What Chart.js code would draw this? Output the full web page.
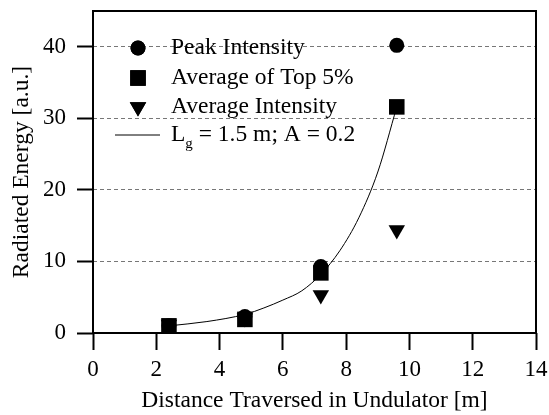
<!DOCTYPE html>
<html>
<head>
<meta charset="utf-8">
<script src="https://cdn.jsdelivr.net/npm/chart.js@4/dist/chart.umd.min.js"></script>
<style>
  html, body { margin: 0; padding: 0; background: #fff; }
  #wrap { width: 549px; height: 415px; position: relative; }
</style>
</head>
<body>
<div id="wrap"><canvas id="chart"></canvas></div>
<script>
// distances along the undulator [m]
const distances = [2.4, 4.8, 7.2, 9.6];
const peakIntensity = [1.0, 2.3, 9.3, 40.2];
const avgTop5 = [1.0, 1.9, 8.4, 31.6];
const avgIntensity = [1.2, 2.1, 5.3, 14.4];

// gain curve, points
const fitX = [2.4, 3.6, 4.8, 5.4, 6.0, 6.6, 7.2, 7.8, 8.4, 9.0, 9.6];
const fitY = [1.0, 1.6, 2.6, 3.5, 4.6, 5.9, 8.2, 11.5, 16.1, 22.5, 31.6];

const xTicks = [0, 2, 4, 6, 8, 10, 12, 14];
const yTicks = [0, 10, 20, 30, 40];

const FONT = '"Liberation Serif", "Times New Roman", serif';
const TEXT_SIZE = 23.5;

function pts(xs, ys) {
    return xs.map((x, i) => ({ x: x, y: ys[i] }));
}

// full box around the plot
const frame = {
    id: 'frame',
    afterDraw(chart) {
        const { ctx, chartArea: a } = chart;
        ctx.save();
        ctx.strokeStyle = '#000';
        ctx.lineWidth = 2;
        ctx.strokeRect(a.left, a.top, a.right - a.left, a.bottom - a.top);
        ctx.restore();
    }
};

// legend drawn inside the plot, top left
const innerLegend = {
    id: 'innerLegend',
    afterDraw(chart) {
        const ctx = chart.ctx;
        const a = chart.chartArea;
        const markX = a.left + 45;
        const textX = a.left + 78;
        const rowY = [a.top + 37, a.top + 67, a.top + 96, a.top + 124];
        const big = TEXT_SIZE + 'px ' + FONT;
        ctx.save();
        ctx.fillStyle = '#000';
        ctx.strokeStyle = '#000';
        ctx.font = big;
        ctx.textBaseline = 'middle';
        ctx.textAlign = 'left';
        chart.data.datasets.forEach((ds, i) => {
            const y = rowY[i];
            if (ds.showLine) {
                ctx.lineWidth = 1;
                ctx.beginPath();
                ctx.moveTo(markX - 23, y);
                ctx.lineTo(markX + 22, y);
                ctx.stroke();
                // L with subscript g
                ctx.fillText('L', textX, y);
                const w = ctx.measureText('L').width;
                ctx.font = '15px ' + FONT;
                ctx.fillText('g', textX + w, y + 9);
                const wg = ctx.measureText('g').width;
                ctx.font = big;
                ctx.fillText(' = 1.5 m; A = 0.2', textX + w + wg, y);
            } else {
                Chart.helpers.drawPoint(ctx, {
                    pointStyle: ds.pointStyle,
                    radius: ds.pointRadius,
                    rotation: ds.rotation || 0,
                    borderWidth: 0
                }, markX, y);
                ctx.fill();
                ctx.fillText(ds.label, textX, y);
            }
        });
        ctx.restore();
    }
};

const markerBase = {
    showLine: false,
    backgroundColor: '#000',
    borderColor: '#000',
    borderWidth: 0
};

new Chart(document.getElementById('chart'), {
    type: 'scatter',
    data: {
        datasets: [
            Object.assign({}, markerBase, {
                label: 'Peak Intensity',
                data: pts(distances, peakIntensity),
                pointStyle: 'circle',
                pointRadius: 7.5,
                order: 3
            }),
            Object.assign({}, markerBase, {
                label: 'Average of Top 5%',
                data: pts(distances, avgTop5),
                pointStyle: 'rect',
                pointRadius: 11,
                order: 2
            }),
            Object.assign({}, markerBase, {
                label: 'Average Intensity',
                data: pts(distances, avgIntensity),
                pointStyle: 'triangle',
                rotation: 180,
                pointRadius: 9.5,
                order: 4
            }),
            {
                label: 'Lg = 1.5 m; A = 0.2',
                data: pts(fitX, fitY),
                showLine: true,
                borderColor: '#000',
                borderWidth: 1,
                pointRadius: 0,
                cubicInterpolationMode: 'monotone',
                order: 1
            }
        ]
    },
    options: {
        responsive: true,
        maintainAspectRatio: false,
        animation: false,
        layout: { padding: { top: 5, right: 13, left: 0, bottom: 0 } },
        plugins: {
            legend: { display: false },
            tooltip: { enabled: false }
        },
        scales: {
            x: {
                type: 'linear',
                min: 0,
                max: 14,
                afterBuildTicks: (s) => { s.ticks = xTicks.map(v => ({ value: v })); },
                afterFit: (s) => { s.height = 82; s.paddingLeft = 0; s.paddingRight = 0; },
                border: { display: false },
                grid: {
                    drawOnChartArea: false,
                    drawTicks: true,
                    tickLength: 17,
                    tickWidth: 2,
                    tickColor: '#000'
                },
                ticks: {
                    color: '#000',
                    font: { family: FONT, size: 23 },
                    padding: 6,
                    maxRotation: 0
                },
                title: {
                    display: true,
                    text: 'Distance Traversed in Undulator [m]',
                    color: '#000',
                    font: { family: FONT, size: TEXT_SIZE },
                    padding: { top: 0, bottom: 0 }
                }
            },
            y: {
                min: 0,
                max: 45,
                afterBuildTicks: (s) => { s.ticks = yTicks.map(v => ({ value: v })); },
                afterFit: (s) => { s.width = 93; s.paddingTop = 0; s.paddingBottom = 0; },
                border: { display: false, dash: [4, 3] },
                grid: {
                    drawTicks: true,
                    tickLength: 16,
                    tickWidth: 2,
                    tickColor: '#000',
                    tickBorderDash: [],
                    color: (c) => c.tick && c.tick.value === 0 ? 'rgba(0,0,0,0)' : '#777',
                    lineWidth: 1
                },
                ticks: {
                    color: '#000',
                    font: { family: FONT, size: 23 },
                    padding: 11
                },
                title: {
                    display: true,
                    text: 'Radiated Energy [a.u.]',
                    color: '#000',
                    font: { family: FONT, size: TEXT_SIZE },
                    padding: { top: 8, bottom: 0 }
                }
            }
        }
    },
    plugins: [frame, innerLegend]
});
</script>
</body>
</html>
